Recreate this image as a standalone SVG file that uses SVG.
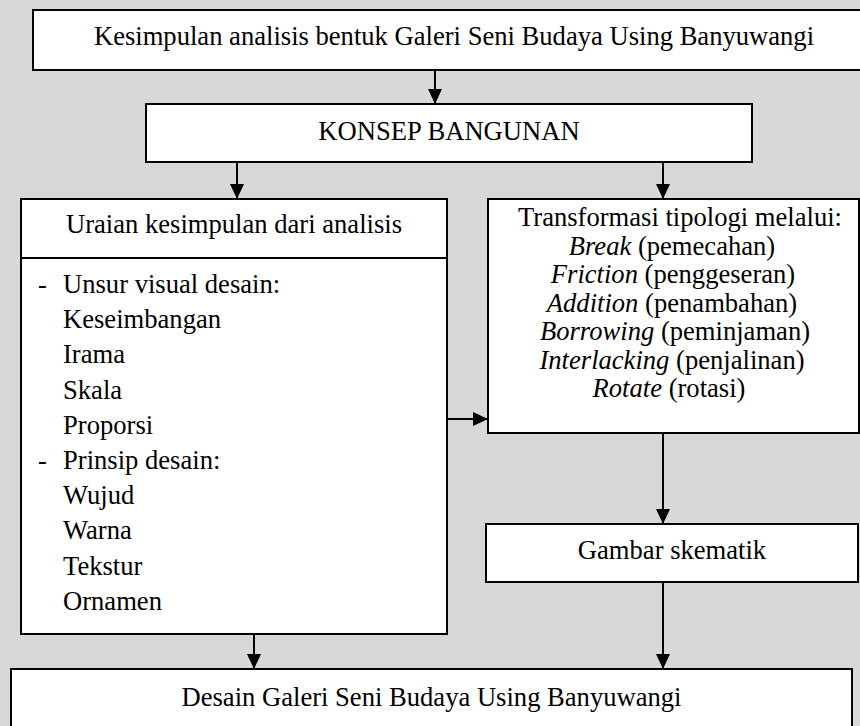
<svg xmlns="http://www.w3.org/2000/svg" width="860" height="726" viewBox="0 0 860 726">
<defs>
<style>
.box{fill:#ffffff;stroke:#000000;stroke-width:2}
.t{font-family:"Liberation Serif","Times New Roman",serif;font-size:26.6px;fill:#000000}
.c{text-anchor:middle}
.i{font-style:italic}
.con{stroke:#000000;stroke-width:2;fill:none;marker-end:url(#ah)}
</style>
<marker id="ah" viewBox="0 0 15 14" refX="15" refY="7" markerWidth="15" markerHeight="14" markerUnits="userSpaceOnUse" orient="auto">
<path d="M0,0 L15,7 L0,14 z" fill="#000000"/>
</marker>
</defs>
<rect x="0" y="0" width="860" height="726" fill="#d8d8d8"/>

<g id="connectors">
<line class="con" x1="435" y1="70" x2="435" y2="104"/>
<line class="con" x1="237" y1="162" x2="237" y2="199"/>
<line class="con" x1="663" y1="162" x2="663" y2="199"/>
<line class="con" x1="444" y1="419" x2="488" y2="419"/>
<line class="con" x1="663" y1="433" x2="663" y2="524"/>
<line class="con" x1="254" y1="634" x2="254" y2="669"/>
<line class="con" x1="663" y1="582" x2="663" y2="669"/>
</g>

<g id="kesimpulan">
<rect class="box" x="33" y="10" width="835" height="60"/>
<text class="t c" x="454" y="45">Kesimpulan analisis bentuk Galeri Seni Budaya Using Banyuwangi</text>
</g>

<g id="konsep">
<rect class="box" x="146" y="104" width="606" height="58"/>
<text class="t c" x="449" y="140">KONSEP BANGUNAN</text>
</g>

<g id="uraian">
<rect class="box" x="21" y="199" width="426" height="435"/>
<line x1="21" y1="258" x2="447" y2="258" stroke="#000000" stroke-width="2"/>
<text class="t c" x="234" y="233">Uraian kesimpulan dari analisis</text>
<text class="t" x="38" y="293">-</text>
<text class="t" x="63" y="293">Unsur visual desain:</text>
<text class="t" x="63" y="328.2">Keseimbangan</text>
<text class="t" x="63" y="363.4">Irama</text>
<text class="t" x="63" y="398.6">Skala</text>
<text class="t" x="63" y="433.8">Proporsi</text>
<text class="t" x="38" y="469">-</text>
<text class="t" x="63" y="469">Prinsip desain:</text>
<text class="t" x="63" y="504.2">Wujud</text>
<text class="t" x="63" y="539.4">Warna</text>
<text class="t" x="63" y="574.6">Tekstur</text>
<text class="t" x="63" y="609.8">Ornamen</text>
</g>

<g id="transformasi">
<rect class="box" x="488" y="199" width="371" height="234"/>
<text class="t c" x="680" y="226">Transformasi tipologi melalui:</text>
<text class="t c" x="672" y="254.5"><tspan class="i">Break</tspan> (pemecahan)</text>
<text class="t c" x="673" y="283"><tspan class="i">Friction</tspan> (penggeseran)</text>
<text class="t c" x="672" y="311.5"><tspan class="i">Addition</tspan> (penambahan)</text>
<text class="t c" x="675" y="340"><tspan class="i">Borrowing</tspan> (peminjaman)</text>
<text class="t c" x="672" y="368.5"><tspan class="i">Interlacking</tspan> (penjalinan)</text>
<text class="t c" x="669" y="397"><tspan class="i">Rotate</tspan> (rotasi)</text>
</g>

<g id="gambar">
<rect class="box" x="486" y="524" width="372" height="58"/>
<text class="t c" x="672" y="559">Gambar skematik</text>
</g>

<g id="desain">
<rect class="box" x="11" y="669" width="841" height="70"/>
<text class="t c" x="431.5" y="706">Desain Galeri Seni Budaya Using Banyuwangi</text>
</g>
</svg>
